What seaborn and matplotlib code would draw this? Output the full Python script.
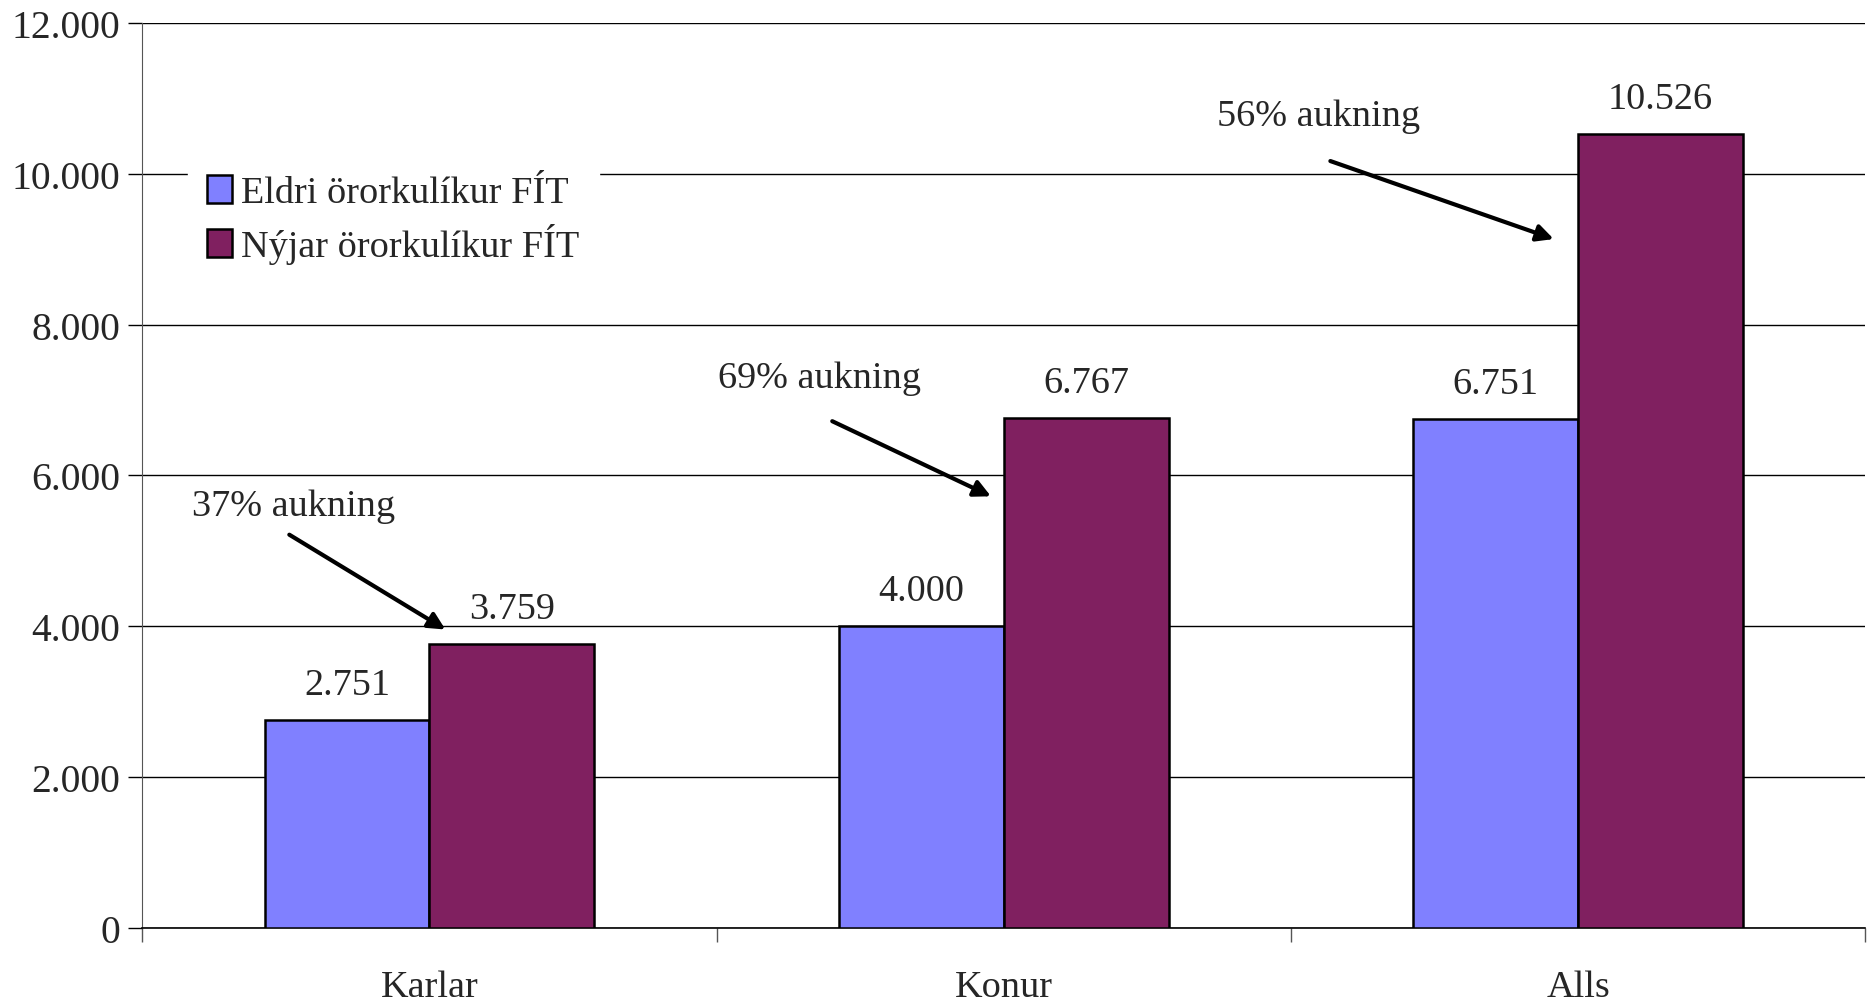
import matplotlib
matplotlib.use('Agg')
import matplotlib.pyplot as plt
import matplotlib.ticker as mticker
import seaborn as sns
import pandas as pd

# Data
categories = ['Karlar', 'Konur', 'Alls']
series_names = ['Eldri örorkulíkur FÍT', 'Nýjar örorkulíkur FÍT']
eldri = [2751, 4000, 6751]
nyjar = [3759, 6767, 10526]
colors = ['#8080FF', '#802060']

# Annotations: text, text position, arrow start, arrow end (data coords)
notes = ['37% aukning', '69% aukning', '56% aukning']
note_xy = [(-0.236, 5600), (0.679, 7290), (1.548, 10770)]
arrow_from = [(-0.248, 5233), (0.697, 6735), (1.564, 10182)]
arrow_to = [(0.032, 3937), (0.982, 5707), (1.962, 9123)]

df = pd.DataFrame({
    'Flokkur': categories * 2,
    'Fjöldi': eldri + nyjar,
    'Röð': [series_names[0]] * 3 + [series_names[1]] * 3,
})

sns.set_style('white')
plt.rcParams['font.family'] = ['Liberation Serif', 'DejaVu Serif']
plt.rcParams['font.size'] = 27.5

fig = plt.figure(figsize=(18.71, 10.03), dpi=100)
ax = fig.add_axes([0.076, 0.074, 0.921, 0.902])

sns.barplot(data=df, x='Flokkur', y='Fjöldi', hue='Röð', palette=colors,
            saturation=1, width=0.574, edgecolor='black', linewidth=1.8,
            ax=ax, zorder=3)

ax.set_ylim(0, 12000)
ax.set_xlim(-0.5, 2.5)
ax.yaxis.set_major_locator(mticker.MultipleLocator(2000))
ax.yaxis.set_major_formatter(mticker.FuncFormatter(lambda v, p: f'{int(v):,}'.replace(',', '.')))
ax.grid(axis='y', color='black', linewidth=1.0, zorder=0)
ax.set_axisbelow(True)

# x ticks on category boundaries, labels in between
ax.set_xticks([-0.5, 0.5, 1.5, 2.5])
ax.set_xticklabels([])
ax.set_xticks([0, 1, 2], minor=True)
ax.set_xticklabels(categories, minor=True)
ax.tick_params(axis='x', which='minor', bottom=True, length=0, pad=30, labelsize=27.5)
ax.tick_params(axis='x', which='major', bottom=True, direction='out', length=10,
               color='#555555', width=1)
ax.tick_params(axis='y', left=True, direction='out', length=10, width=1, color='black',
               labelsize=28.5, pad=6)
ax.set_xlabel('')
ax.set_ylabel('')

for side in ['top', 'right']:
    ax.spines[side].set_visible(False)
ax.spines['left'].set_color('#555555')
ax.spines['bottom'].set_color('black')
ax.spines['bottom'].set_linewidth(1.2)

for cont in ax.containers:
    ax.bar_label(cont, labels=[f'{int(v):,}'.replace(',', '.') for v in cont.datavalues],
                 padding=13, fontsize=27.5)

for txt, xy, a0, a1 in zip(notes, note_xy, arrow_from, arrow_to):
    ax.text(xy[0], xy[1], txt, ha='center', va='center', fontsize=27.5, zorder=5)
    ax.annotate('', xy=a1, xytext=a0,
                arrowprops=dict(arrowstyle='-|>', color='black', lw=3, mutation_scale=25),
                zorder=5)

leg = ax.legend(loc='upper left', bbox_to_anchor=(0.022, 0.862), frameon=True,
                fontsize=27.5, handlelength=0.65, handleheight=0.75, handletextpad=0.25,
                labelspacing=0.34, borderpad=0.2)
leg.get_frame().set_edgecolor('white')
leg.get_frame().set_facecolor('white')
leg.get_frame().set_alpha(1)
leg.get_frame().set_boxstyle('square', pad=0.3)

fig.savefig('out.png', dpi=100)
